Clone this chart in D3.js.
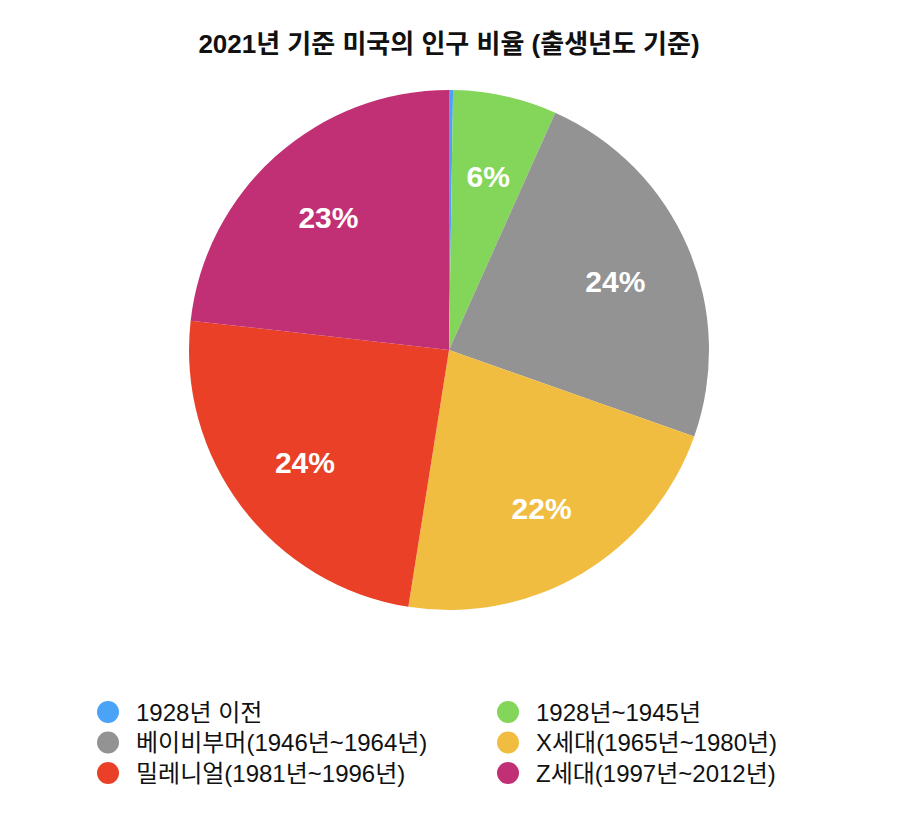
<!DOCTYPE html>
<html>
<head>
<meta charset="utf-8">
<script src="https://cdn.jsdelivr.net/npm/d3@7"></script>
<style>
  body { margin: 0; background: #fff; }
  text { font-family: "Liberation Sans", Arial, "Noto Sans CJK KR", sans-serif; }
</style>
</head>
<body>
<svg id="chart"></svg>
<script>
const width = 912;
const height = 814;

const categories = ["1928년 이전", "1928년~1945년", "베이비부머(1946년~1964년)", "X세대(1965년~1980년)", "밀레니얼(1981년~1996년)", "Z세대(1997년~2012년)"];
const shares = [0.25, 6.45, 23.7, 22.1, 24.3, 23.2];
const colors = ["#4aa3f7", "#84d65a", "#939393", "#f0bd41", "#e94027", "#c12f75"];

const svg = d3.select("#chart")
    .attr("width", width)
    .attr("height", height);

svg.append("text")
    .attr("x", 449)
    .attr("y", 53)
    .attr("text-anchor", "middle")
    .attr("font-size", 26)
    .attr("font-weight", "bold")
    .attr("fill", "#111")
    .text("2021년 기준 미국의 인구 비율 (출생년도 기준)");

const data = categories.map((c, i) => ({ name: c, value: shares[i], color: colors[i] }));
const total = d3.sum(shares);

const radius = 260;
const pie = d3.pie().value(d => d.value).sort(null);
const arc = d3.arc().innerRadius(0).outerRadius(radius);
const labelArc = d3.arc().innerRadius(181).outerRadius(181);

const g = svg.append("g").attr("transform", "translate(449,350)");

const arcs = pie(data);

g.selectAll("path")
    .data(arcs)
    .join("path")
        .attr("d", arc)
        .attr("fill", d => d.data.color);

g.selectAll("text")
    .data(arcs.filter(d => d.data.value / total > 0.02))
    .join("text")
        .attr("transform", d => `translate(${labelArc.centroid(d)})`)
        .attr("text-anchor", "middle")
        .attr("dy", "0.45em")
        .attr("font-size", 30)
        .attr("font-weight", "bold")
        .attr("fill", "#fff")
        .text(d => Math.round(d.data.value / total * 100) + "%");

// legend, two columns
const legend = svg.append("g");
const item = legend.selectAll("g")
    .data(data)
    .join("g")
        .attr("transform", (d, i) => `translate(${i % 2 === 0 ? 108 : 508},${712 + Math.floor(i / 2) * 30.5})`);

item.append("circle")
    .attr("r", 11)
    .attr("fill", d => d.color);

item.append("text")
    .attr("x", 28)
    .attr("dy", "0.36em")
    .attr("font-size", 24)
    .attr("fill", "#111")
    .text(d => d.name);
</script>
</body>
</html>
